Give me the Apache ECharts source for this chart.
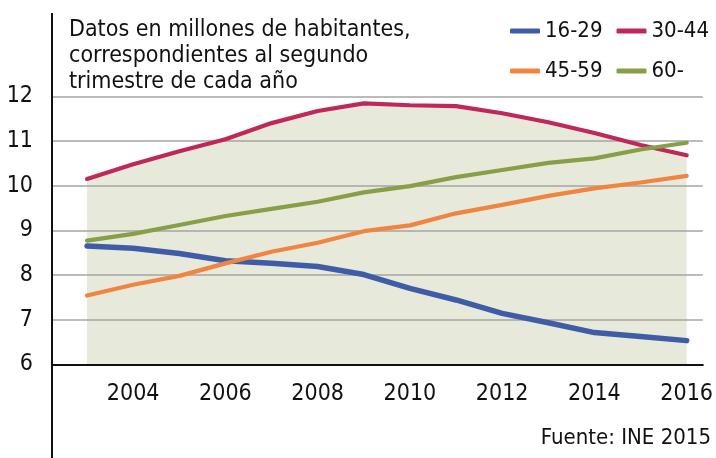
<!DOCTYPE html>
<html>
<head>
<meta charset="utf-8">
<script src="https://cdn.jsdelivr.net/npm/echarts@6/dist/echarts.min.js"></script>
<style>
html,body{margin:0;padding:0;background:#fff;}
#chart{width:716px;height:458px;}
</style>
</head>
<body>
<div id="chart"></div>
<script>
var years = [2003,2004,2005,2006,2007,2008,2009,2010,2011,2012,2013,2014,2015,2016];
var yearLabels = [2004,2006,2008,2010,2012,2014,2016];
var g16_29 = [8.65,8.60,8.48,8.32,8.26,8.19,8.01,7.70,7.44,7.14,6.93,6.71,6.62,6.53];
var g30_44 = [10.15,10.48,10.77,11.04,11.40,11.67,11.84,11.80,11.78,11.62,11.42,11.18,10.91,10.68];
var g45_59 = [7.54,7.78,7.98,8.26,8.52,8.72,8.98,9.11,9.38,9.57,9.77,9.94,10.07,10.22];
var g60 = [8.77,8.92,9.12,9.32,9.48,9.64,9.85,9.99,10.19,10.35,10.51,10.61,10.81,10.96];

var font = '"DejaVu Sans Condensed", "Liberation Sans Narrow", sans-serif';

function pairs(vals){
    return years.map(function(y, k){ return [y, vals[k]]; });
}

function lineSeries(name, vals, color, width){
    return {
        name: name,
        type: 'line',
        data: pairs(vals),
        symbol: 'none',
        z: 5,
        lineStyle: {color: color, width: width, cap: 'round'},
        itemStyle: {color: color}
    };
}

var legendBase = {
    left: 510,
    icon: 'roundRect',
    itemWidth: 30, itemHeight: 5, itemGap: 14,
    padding: 0,
    textStyle: {fontFamily: font, fontSize: 22, color: '#111'}
};

var chart = echarts.init(document.getElementById('chart'));
var option = {
    animation: false,
    textStyle: {fontFamily: font},
    title: [{
        text: 'Datos en millones de habitantes,\ncorrespondientes al segundo\ntrimestre de cada año',
        left: 64, top: 12,
        textStyle: {fontFamily: font, fontSize: 23, fontWeight: 'normal', color: '#111', lineHeight: 26}
    }, {
        text: 'Fuente: INE 2015',
        right: 0, bottom: 4,
        textStyle: {fontFamily: font, fontSize: 22, fontWeight: 'normal', color: '#111'}
    }],
    legend: [
        Object.assign({}, legendBase, {data: ['16-29', '30-44'], top: 20}),
        Object.assign({}, legendBase, {data: ['45-59', '60-'], top: 60})
    ],
    grid: {left: 52, right: 13, top: 96.3, bottom: 93.7},
    xAxis: {
        type: 'value',
        min: 2002.24, max: 2016.35,
        z: 3,
        splitLine: {show: false},
        axisLine: {show: true, lineStyle: {color: '#111', width: 2}},
        axisTick: {show: false},
        axisLabel: {
            customValues: yearLabels,
            formatter: function(v){ return String(v); },
            margin: 18,
            fontFamily: font, fontSize: 23, color: '#111'
        }
    },
    yAxis: {
        type: 'value',
        min: 6, max: 12, interval: 1,
        z: 3,
        axisLine: {show: false},
        axisTick: {show: false},
        splitLine: {lineStyle: {color: '#a5a5a5', width: 1.5}},
        axisLabel: {margin: 19, fontFamily: font, fontSize: 23, color: '#111'}
    },
    graphic: [{
        type: 'line',
        shape: {x1: 52, y1: 13, x2: 52, y2: 458},
        style: {stroke: '#111', lineWidth: 2},
        z: 10
    }],
    series: [
        {
            name: 'fondo',
            type: 'line',
            data: pairs(g30_44),
            symbol: 'none',
            z: 1,
            lineStyle: {width: 0},
            areaStyle: {color: '#e7e9db', opacity: 1, origin: 'start'},
            silent: true
        },
        lineSeries('16-29', g16_29, '#3f5ca6', 5.5),
        lineSeries('30-44', g30_44, '#c0285a', 4.2),
        lineSeries('45-59', g45_59, '#ef8540', 4.2),
        lineSeries('60-', g60, '#87a047', 4.2)
    ]
};
chart.setOption(option);
</script>
</body>
</html>
